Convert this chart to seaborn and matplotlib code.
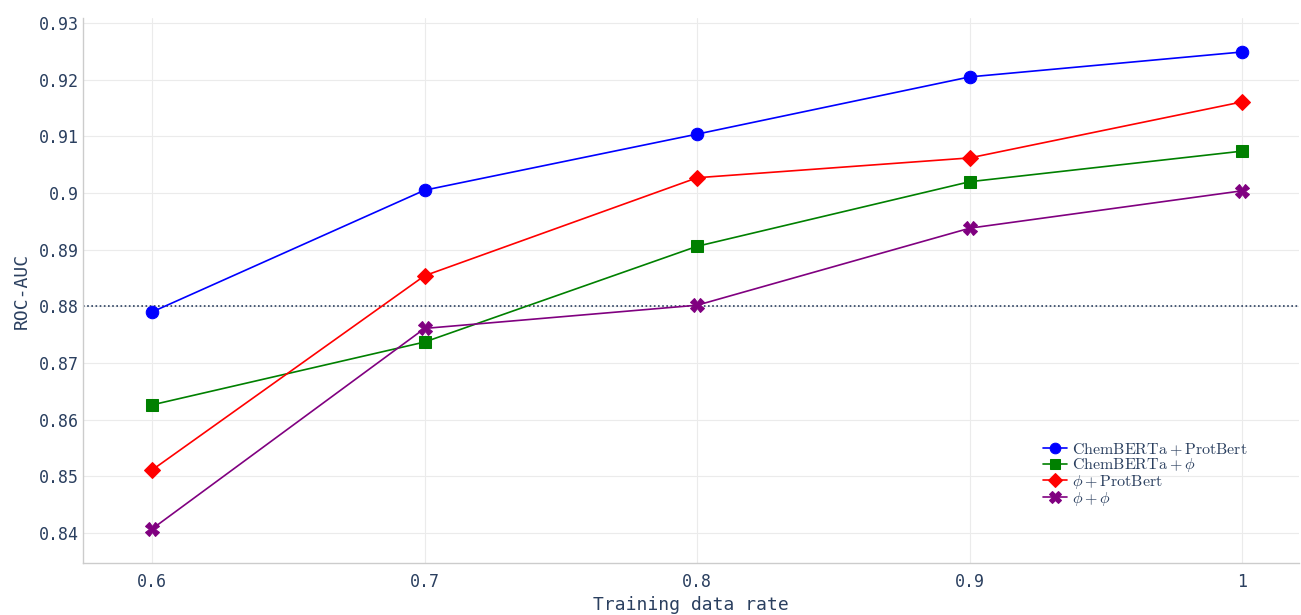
import matplotlib
matplotlib.use("Agg")
import matplotlib.pyplot as plt
import seaborn as sns
import pandas as pd

rates = [0.6, 0.7, 0.8, 0.9, 1.0]
chem_prot = [0.8790, 0.9005, 0.9104, 0.9205, 0.9249]
chem_phi = [0.8626, 0.8737, 0.8906, 0.9020, 0.9074]
phi_prot = [0.8511, 0.8854, 0.9027, 0.9062, 0.9161]
phi_phi = [0.8407, 0.8761, 0.8802, 0.8938, 0.9004]
labels = [r"$\mathrm{ChemBERTa} + \mathrm{ProtBert}$",
          r"$\mathrm{ChemBERTa} + \phi$",
          r"$\phi + \mathrm{ProtBert}$",
          r"$\phi + \phi$"]
series = [chem_prot, chem_phi, phi_prot, phi_phi]
colors = ["blue", "green", "red", "purple"]
markers = ["o", "s", "D", "X"]
msizes = [9, 9, 8, 10]
threshold = 0.88
yticks = [0.84, 0.85, 0.86, 0.87, 0.88, 0.89, 0.90, 0.91, 0.92, 0.93]
ytick_labels = ["0.84", "0.85", "0.86", "0.87", "0.88", "0.89", "0.9", "0.91", "0.92", "0.93"]
xticks = [0.6, 0.7, 0.8, 0.9, 1.0]
xtick_labels = ["0.6", "0.7", "0.8", "0.9", "1"]

sns.set_style("white")
plt.rcParams["font.family"] = ["DejaVu Sans Mono"]
plt.rcParams["mathtext.fontset"] = "cm"

fig = plt.figure(figsize=(13.01, 6.15), dpi=100)
ax = fig.add_axes([0.0638, 0.0846, 0.935, 0.8862])

txt = "#2a3f5f"
for lab, vals, c, m, ms in zip(labels, series, colors, markers, msizes):
    df = pd.DataFrame({"x": rates, "y": vals})
    sns.lineplot(data=df, x="x", y="y", ax=ax, color=c, marker=m, markersize=ms,
                 markeredgecolor=c, linewidth=1.2, label=lab)

ax.axhline(threshold, color=txt, linestyle=(0, (1, 1.5)), linewidth=1.2, zorder=1)

ax.set_xlim(0.5747, 1.0209)
ax.set_ylim(0.8347, 0.9309)
ax.set_xticks(xticks)
ax.set_xticklabels(xtick_labels)
ax.set_yticks(yticks)
ax.set_yticklabels(ytick_labels)
ax.grid(True, color="#ebebeb", linewidth=0.8)
ax.set_axisbelow(True)
for s in ["top", "right"]:
    ax.spines[s].set_visible(False)
for s in ["left", "bottom"]:
    ax.spines[s].set_color("#cccccc")
    ax.spines[s].set_linewidth(1)
ax.tick_params(axis="both", labelsize=12, colors=txt, length=0, pad=3)
ax.tick_params(axis="x", pad=7)
ax.set_xlabel("Training data rate", fontsize=13, color=txt, labelpad=4)
ax.set_ylabel("ROC-AUC", fontsize=13, color=txt, labelpad=6)

leg = ax.legend(loc="upper left", bbox_to_anchor=(0.789, 0.224), frameon=False,
                fontsize=11.5, labelspacing=-0.08, handlelength=1.5, handletextpad=0.3,
                borderaxespad=0, borderpad=0, markerscale=0.85)
for t in leg.get_texts():
    t.set_color(txt)

fig.savefig("out.png", dpi=100)
